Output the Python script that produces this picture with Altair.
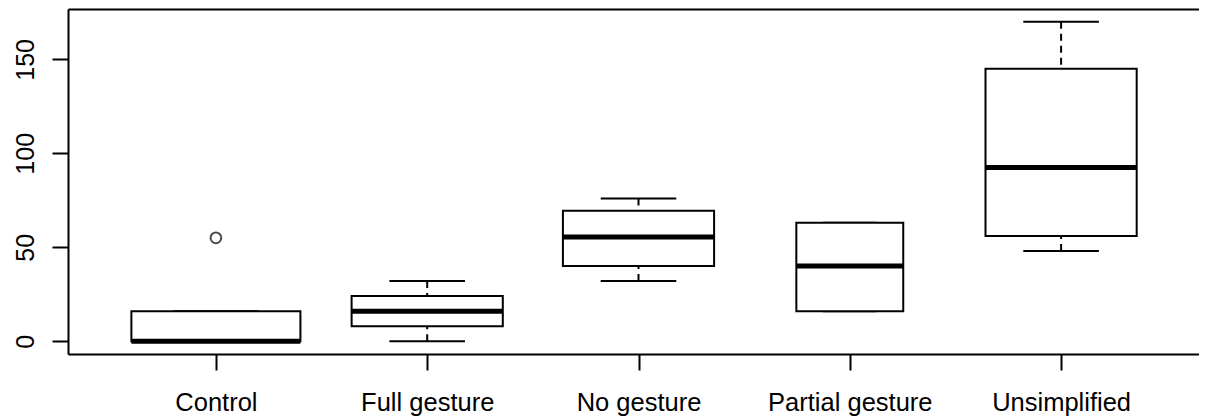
import altair as alt
import pandas as pd

groups = ["Control", "Full gesture", "No gesture", "Partial gesture", "Unsimplified"]
group_n = [10, 8, 8, 4, 8]  # sample sizes (box widths ~ sqrt(n), as R's varwidth)
lower_whisker = [0, 0, 32, 16, 48]
q1 = [0, 8, 40, 16, 56]
median = [0, 16, 55.5, 40, 92.5]
q3 = [16, 24, 69.5, 63, 145]
upper_whisker = [16, 32, 76, 63, 170]

outlier_group = ["Control"]
outlier_value = [55]

y_ticks = [0, 50, 100, 150]

df = pd.DataFrame({
    "group": groups,
    "pos": list(range(1, len(groups) + 1)),
    "n": group_n,
    "lw": lower_whisker,
    "q1": q1,
    "med": median,
    "q3": q3,
    "uw": upper_whisker,
})
out_df = pd.DataFrame({
    "group": outlier_group,
    "pos": [groups.index(g) + 1 for g in outlier_group],
    "value": outlier_value,
})

FONT = "Liberation Sans"
PLOT_W = 1131
PLOT_H = 345
FULL_W = 1141  # width the R plot region would have (it is cut off at the right)
ymin, ymax = 0, 170
ext = (ymax - ymin) * 0.04
y_scale = alt.Scale(domain=[ymin - ext, ymax + ext], nice=False, zero=False)
full_x = [0.3, len(groups) + 0.7]
x_scale = alt.Scale(domain=[full_x[0], full_x[0] + (full_x[1] - full_x[0]) * PLOT_W / FULL_W],
                    nice=False, zero=False)

label_expr = "[" + ",".join("'" + g + "'" for g in groups) + "][datum.value - 1]"

x_axis_bottom = alt.Axis(
    orient="bottom", values=list(range(1, len(groups) + 1)), labelExpr=label_expr,
    title=None, grid=False, tickSize=16, tickWidth=2, tickColor="black",
    domainColor="black", domainWidth=2, labelFont=FONT, labelFontSize=25.5,
    labelColor="black", labelPadding=20, labelFlush=False, labelOverlap=False,
    labelBound=False,
)
x_axis_top = alt.Axis(
    orient="top", title=None, grid=False, ticks=False, labels=False,
    domainColor="black", domainWidth=2,
)
y_axis = alt.Axis(
    values=y_ticks, title=None, grid=False, tickSize=16, tickWidth=2,
    tickColor="black", domainColor="black", domainWidth=2, labelFont=FONT,
    labelFontSize=25, labelColor="black", labelAngle=270, labelAlign="center",
    labelBaseline="alphabetic", labelPadding=19,
)

base = alt.Chart(df).transform_joinaggregate(
    maxn="max(n)"
).transform_calculate(
    hw="0.4 * sqrt(datum.n / datum.maxn)"
).transform_calculate(
    left="datum.pos - datum.hw", right="datum.pos + datum.hw",
    sleft="datum.pos - datum.hw / 2", sright="datum.pos + datum.hw / 2",
)

upper_wh = base.mark_rule(color="black", strokeWidth=2, strokeDash=[7, 5]).encode(
    x=alt.X("pos:Q", scale=x_scale, axis=x_axis_top),
    y=alt.Y("uw:Q", scale=y_scale, axis=None),
    y2="q3:Q",
)
lower_wh = base.mark_rule(color="black", strokeWidth=2, strokeDash=[7, 5]).encode(
    x=alt.X("pos:Q", scale=x_scale, axis=None),
    y=alt.Y("lw:Q", scale=y_scale, axis=None),
    y2="q1:Q",
)
upper_staple = base.mark_rule(color="black", strokeWidth=2).encode(
    x=alt.X("sleft:Q", scale=x_scale, axis=None), x2="sright:Q",
    y=alt.Y("uw:Q", scale=y_scale, axis=None),
)
lower_staple = base.mark_rule(color="black", strokeWidth=2).encode(
    x=alt.X("sleft:Q", scale=x_scale, axis=None), x2="sright:Q",
    y=alt.Y("lw:Q", scale=y_scale, axis=None),
)
box = base.mark_rect(fill="white", stroke="black", strokeWidth=2).encode(
    x=alt.X("left:Q", scale=x_scale, axis=None), x2="right:Q",
    y=alt.Y("q1:Q", scale=y_scale, axis=y_axis), y2="q3:Q",
)
med = base.mark_rule(color="black", strokeWidth=5).encode(
    x=alt.X("left:Q", scale=x_scale, axis=None), x2="right:Q",
    y=alt.Y("med:Q", scale=y_scale, axis=None),
)
ticks_layer = base.mark_point(opacity=0).encode(
    x=alt.X("pos:Q", scale=x_scale, axis=x_axis_bottom),
    y=alt.Y("med:Q", scale=y_scale, axis=None),
)
outliers = alt.Chart(out_df).mark_point(
    shape="circle", filled=False, color="black", size=115, strokeWidth=2
).encode(
    x=alt.X("pos:Q", scale=x_scale, axis=None),
    y=alt.Y("value:Q", scale=y_scale, axis=None),
)

chart = alt.layer(
    upper_wh, lower_wh, upper_staple, lower_staple, box, med, ticks_layer, outliers
).resolve_axis(x="independent", y="independent").properties(
    width=PLOT_W, height=PLOT_H,
    autosize=alt.AutoSizeParams(type="none"),
    padding={"left": 60, "top": 1, "right": 0, "bottom": 62},
).configure_view(stroke=None).configure(background="white")

chart.save("out.html", embed_options={"renderer": "svg", "actions": False})
